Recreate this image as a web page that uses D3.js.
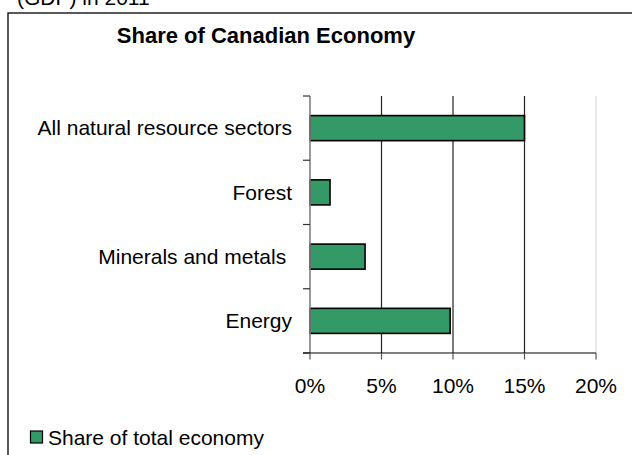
<!DOCTYPE html>
<html>
<head>
<meta charset="utf-8">
<script src="https://cdn.jsdelivr.net/npm/d3@7"></script>
<style>
  html, body { margin: 0; padding: 0; background: #fff; }
  svg { display: block; font-family: "Liberation Sans", Arial, sans-serif; }
</style>
</head>
<body>
<svg id="chart" width="632" height="455"></svg>
<script>
const categories = ["All natural resource sectors", "Forest", "Minerals and metals ", "Energy"];
const shareValues = [0.15, 0.014, 0.0385, 0.098];
const tickValues = [0, 0.05, 0.10, 0.15, 0.20];
const tickLabels = ["0%", "5%", "10%", "15%", "20%"];
const seriesName = "Share of total economy";
const chartTitle = "Share of Canadian Economy";
const headerText = "(GDP) in 2011";

const svg = d3.select("#chart");

// header text cut off at top
svg.append("text").attr("x", 17).attr("y", 5)
  .attr("font-size", 21).attr("fill", "#000").text(headerText);

// outer box
svg.append("rect").attr("x", 8).attr("y", 13).attr("width", 700).attr("height", 600)
  .attr("fill", "#fff").attr("stroke", "#000").attr("stroke-width", 1.3);

// title
svg.append("text").attr("x", 266).attr("y", 43).attr("text-anchor", "middle")
  .attr("font-size", 22).attr("font-weight", "bold").text(chartTitle);

const x = d3.scaleLinear().domain([0, 0.2]).range([310, 596]);
const y = d3.scaleBand().domain(categories).range([96, 353]).paddingInner(0.61).paddingOuter(0.305);

// gridlines
svg.append("g").selectAll("line").data(tickValues.slice(1)).join("line")
  .attr("x1", d => x(d)).attr("x2", d => x(d))
  .attr("y1", 96).attr("y2", 353)
  .attr("stroke", d => d === 0.2 ? "#d9d9d9" : "#222")
  .attr("stroke-width", 1.2);

// bars
svg.append("g").selectAll("rect").data(categories).join("rect")
  .attr("x", x(0))
  .attr("y", d => y(d))
  .attr("width", (d, i) => x(shareValues[i]) - x(0))
  .attr("height", y.bandwidth())
  .attr("fill", "#339966")
  .attr("stroke", "#000").attr("stroke-width", 1.6);

// y axis line
svg.append("line").attr("x1", 310).attr("x2", 310).attr("y1", 96).attr("y2", 353)
  .attr("stroke", "#808080").attr("stroke-width", 1.6);

// category boundary ticks
const step = y.step();
const bounds = d3.range(categories.length + 1).map(i => 96 + i * step);
svg.append("g").selectAll("line").data(bounds).join("line")
  .attr("x1", 303).attr("x2", 310).attr("y1", d => d).attr("y2", d => d)
  .attr("stroke", "#333").attr("stroke-width", 1.2);

// x axis
svg.append("line").attr("x1", 303).attr("x2", x(0.2)).attr("y1", 353).attr("y2", 353)
  .attr("stroke", "#000").attr("stroke-width", 1.2);
svg.append("g").selectAll("line").data(tickValues).join("line")
  .attr("x1", d => x(d)).attr("x2", d => x(d)).attr("y1", 353).attr("y2", 359.5)
  .attr("stroke", "#555").attr("stroke-width", 1.2);
svg.append("g").selectAll("text").data(tickValues).join("text")
  .attr("x", d => x(d)).attr("y", 393).attr("text-anchor", "middle")
  .attr("font-size", 21).attr("fill", "#000")
  .text((d, i) => tickLabels[i]);

// category labels
svg.append("g").selectAll("text").data(categories).join("text")
  .attr("x", 292).attr("y", d => y(d) + y.bandwidth() / 2)
  .attr("dy", "0.35em").attr("text-anchor", "end")
  .attr("font-size", 21).attr("fill", "#000")
  .style("white-space", "pre")
  .text(d => d);

// legend
svg.append("rect").attr("x", 30.5).attr("y", 431).attr("width", 12).attr("height", 12)
  .attr("fill", "#339966").attr("stroke", "#000").attr("stroke-width", 1.2);
svg.append("text").attr("x", 48).attr("y", 444.5)
  .attr("font-size", 21).attr("fill", "#000").text(seriesName);
</script>
</body>
</html>
